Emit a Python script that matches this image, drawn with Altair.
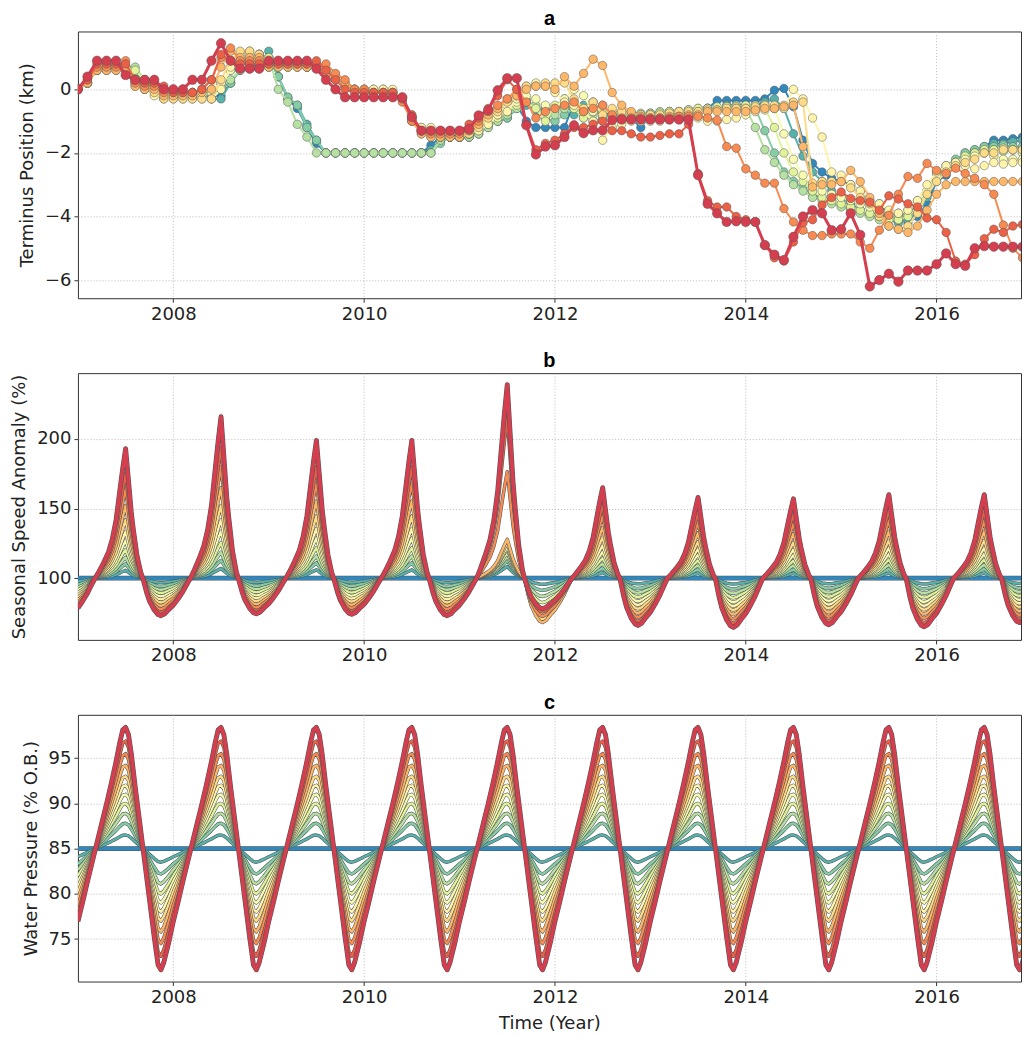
import altair as alt
import pandas as pd

# ---------------- common ----------------
SERIES = [f"s{k:02d}" for k in range(12)]
COLORS = ["#3288bd", "#58b2ac", "#85cea5", "#b6e1a2", "#e1f399", "#f6fbb1",
          "#fff4ac", "#fedb87", "#fdb769", "#f88b51", "#ec6046", "#d53e4f"]
YEARS = list(range(2007, 2017))
X_TICKS = [2008, 2010, 2012, 2014, 2016]

# ---------------- panel a: terminus position (km), one sample every 0.1 yr from 2007.0 ----------------
A_START = 2007.0
A_STEP = 0.1
TERM_00 = [0.0, 0.2, 0.6, 0.7, 0.7, 0.7, 0.4, 0.2, 0.1, 0.0,
           -0.1, -0.1, -0.1, -0.1, -0.2, -0.2, 0.2, 0.6, 0.7, 0.8,
           1.0, 0.4, -0.3, -0.6, -1.2, -1.7, -2.0, -2.0, -2.0, -2.0,
           -2.0, -2.0, -2.0, -2.0, -2.0, -2.0, -2.0, -1.76, -1.5, -1.5,
           -1.5, -1.5, -1.3, -1.1, -0.9, -0.7, -0.5, -1.0, -1.2, -1.2,
           -1.2, -1.2, -0.4, -0.6, -0.6, -0.66, -0.8, -0.97, -0.9, -1.2,
           -0.82, -0.8, -0.8, -0.8, -0.75, -0.7, -0.6, -0.35, -0.35, -0.35,
           -0.35, -0.35, -0.3, -0.03, 0.03, -0.55, -1.6, -2.33, -2.6, -2.8,
           -2.9, -3.0, -3.2, -3.5, -3.6, -3.9, -3.9, -4.2, -4.0, -3.6,
           -2.9, -2.7, -2.4, -2.0, -1.95, -1.8, -1.6, -1.6, -1.55, -1.5]
TERM_01 = [0.0, 0.2, 0.6, 0.7, 0.7, 0.7, 0.4, 0.2, 0.1, 0.0,
           -0.1, -0.1, -0.1, -0.1, -0.3, -0.3, 0.2, 0.65, 0.65, 0.65,
           1.2, 0.4, -0.25, -0.5, -1.1, -1.6, -2.0, -2.0, -2.0, -2.0,
           -2.0, -2.0, -2.0, -2.0, -2.0, -2.0, -2.0, -1.9, -1.6, -1.5,
           -1.5, -1.5, -1.4, -1.1, -1.0, -0.9, -0.6, -0.5, -0.7, -0.6,
           -0.7, -0.4, -0.8, -0.5, -0.4, -0.7, -0.8, -0.8, -0.8, -0.8,
           -0.8, -0.75, -0.7, -0.7, -0.65, -0.65, -0.6, -0.6, -0.5, -0.5,
           -0.5, -0.5, -0.4, -0.3, -0.6, -1.4, -2.1, -2.6, -2.9, -3.2,
           -3.4, -3.6, -3.8, -3.9, -4.0, -4.1, -4.2, -4.1, -3.9, -3.4,
           -2.8, -2.5, -2.3, -2.1, -1.9, -1.85, -1.7, -1.7, -1.65, -1.6]
TERM_02 = [0.0, 0.2, 0.6, 0.7, 0.7, 0.7, 0.5, 0.2, 0.1, 0.0,
           -0.1, -0.1, -0.1, -0.1, -0.1, 0.0, 0.2, 0.6, 0.8, 1.0,
           1.0, 0.4, -0.25, -0.5, -1.2, -1.6, -2.0, -2.0, -2.0, -2.0,
           -2.0, -2.0, -2.0, -2.0, -2.0, -2.0, -2.0, -2.0, -1.7, -1.5,
           -1.5, -1.5, -1.4, -1.2, -1.0, -0.9, -0.5, -0.3, -0.6, -0.9,
           -1.0, -0.8, -0.6, -0.8, -1.0, -0.9, -0.8, -0.8, -0.8, -0.8,
           -0.75, -0.75, -0.7, -0.7, -0.7, -0.65, -0.6, -0.6, -0.6, -0.55,
           -0.6, -0.6, -1.3, -2.0, -2.6, -2.9, -3.1, -3.3, -3.4, -3.5,
           -3.6, -3.7, -3.8, -3.9, -4.0, -4.0, -4.1, -3.9, -3.7, -3.2,
           -2.6, -2.4, -2.2, -2.0, -1.9, -1.8, -1.8, -1.75, -1.8, -1.8]
TERM_03 = [0.0, 0.2, 0.6, 0.7, 0.7, 0.7, 0.7, 0.3, 0.1, 0.0,
           -0.1, -0.1, -0.1, -0.1, 0.0, 0.1, 0.3, 0.6, 0.8, 1.1,
           1.0, 0.0, -0.4, -1.1, -1.5, -2.0, -2.0, -2.0, -2.0, -2.0,
           -2.0, -2.0, -2.0, -2.0, -2.0, -2.0, -2.0, -2.0, -1.6, -1.5,
           -1.5, -1.5, -1.4, -1.2, -1.0, -0.8, -0.6, -0.4, -0.5, -0.9,
           -0.8, -0.6, -0.5, -0.9, -0.8, -0.7, -0.7, -0.7, -0.75, -0.75,
           -0.75, -0.7, -0.7, -0.7, -0.65, -0.6, -0.6, -0.6, -0.55, -0.5,
           -0.6, -1.2, -1.9, -2.3, -2.7, -3.0, -3.2, -3.4, -3.5, -3.6,
           -3.7, -3.8, -3.9, -4.0, -4.1, -4.1, -4.0, -3.9, -3.6, -3.3,
           -2.8, -2.5, -2.3, -2.2, -2.0, -2.0, -1.9, -1.95, -1.9, -1.9]
TERM_04 = [0.0, 0.2, 0.6, 0.7, 0.7, 0.7, 0.6, 0.3, 0.1, -0.1,
           -0.1, -0.1, -0.1, -0.1, 0.0, 0.2, 0.6, 0.9, 0.9, 1.0,
           1.0, 0.8, 0.8, 0.8, 0.7, 0.7, 0.5, 0.3, 0.1, 0.0,
           0.0, 0.0, 0.0, -0.1, -0.3, -0.9, -1.3, -1.4, -1.5, -1.5,
           -1.5, -1.4, -1.3, -1.1, -0.9, -0.7, -0.5, -0.4, -0.6, -1.0,
           -0.5, -0.3, -0.6, -0.9, -0.7, -0.6, -0.7, -0.75, -0.8, -0.8,
           -0.8, -0.75, -0.7, -0.7, -0.65, -0.6, -0.6, -0.55, -0.55, -0.55,
           -0.5, -0.5, -0.6, -1.2, -2.0, -2.6, -2.9, -3.2, -3.4, -3.5,
           -3.6, -3.7, -3.8, -3.9, -4.0, -4.1, -4.1, -4.0, -3.7, -3.3,
           -2.8, -2.5, -2.3, -2.1, -2.0, -1.9, -1.9, -1.85, -1.9, -2.0]
TERM_05 = [0.0, 0.2, 0.6, 0.7, 0.7, 0.7, 0.2, 0.1, 0.0, -0.2,
           -0.2, -0.2, -0.2, -0.2, -0.1, 0.2, 0.6, 0.9, 1.1, 1.1,
           0.8, 0.8, 0.8, 0.8, 0.7, 0.7, 0.5, 0.3, 0.1, 0.0,
           0.0, 0.0, 0.0, -0.1, -0.3, -0.9, -1.2, -1.4, -1.4, -1.5,
           -1.5, -1.4, -1.2, -1.0, -0.8, -0.5, -0.4, -0.2, -0.3, -0.5,
           -0.6, -0.3, 0.0, -0.2, -0.7, -0.5, -0.7, -0.8, -0.85, -0.85,
           -0.85, -0.85, -0.8, -0.8, -0.75, -0.7, -0.7, -0.65, -0.65, -0.6,
           -0.6, -0.6, -0.55, -0.6, -1.4, -2.2, -2.7, -3.0, -3.2, -3.3,
           -3.4, -3.5, -3.6, -3.7, -3.8, -3.9, -3.9, -3.8, -3.5, -3.2,
           -2.7, -2.5, -2.3, -2.2, -2.1, -2.0, -2.1, -2.2, -2.2, -2.2]
TERM_06 = [0.0, 0.2, 0.6, 0.6, 0.6, 0.6, 0.2, 0.0, -0.2, -0.3,
           -0.3, -0.3, -0.3, -0.3, -0.3, 0.0, 0.7, 1.1, 1.2, 1.1,
           0.7, 0.7, 0.7, 0.7, 0.7, 0.7, 0.6, 0.4, 0.2, 0.0,
           0.0, 0.0, 0.0, 0.0, -0.3, -0.9, -1.2, -1.2, -1.5, -1.5,
           -1.5, -1.4, -1.3, -1.1, -0.8, -0.7, -0.3, 0.1, 0.2, 0.1,
           -0.1, -0.4, -0.5, -0.7, -1.0, -1.6, -1.2, -1.1, -1.0, -1.0,
           -1.0, -1.0, -0.95, -0.9, -0.9, -0.9, -1.0, -1.0, -0.95, -0.9,
           -0.8, -0.7, -0.65, -0.6, -0.6, 0.0, -0.3, -0.9, -1.5, -2.6,
           -2.7, -3.0, -3.2, -3.5, -3.6, -3.8, -3.9, -3.8, -3.5, -3.0,
           -2.6, -2.4, -2.3, -2.4, -2.5, -2.4, -2.3, -2.35, -2.3, -2.3]
TERM_07 = [0.0, 0.2, 0.6, 0.6, 0.6, 0.6, 0.1, 0.0, -0.1, -0.3,
           -0.3, -0.3, -0.3, -0.3, -0.3, 0.3, 0.9, 1.2, 1.2, 1.1,
           0.7, 0.7, 0.7, 0.7, 0.7, 0.7, 0.5, 0.3, 0.1, 0.0,
           -0.1, -0.1, -0.1, -0.1, -0.3, -1.0, -1.4, -1.5, -1.5, -1.5,
           -1.5, -1.4, -1.2, -0.9, -0.7, -0.4, -0.2, 0.1, 0.1, 0.2,
           0.2, 0.2, -0.3, -0.6, -0.4, -0.8, -0.6, -0.7, -0.8, -0.8,
           -0.8, -0.8, -0.75, -0.7, -0.7, -0.7, -0.65, -0.65, -0.6, -0.6,
           -0.6, -0.55, -0.5, -0.5, -0.5, -0.4, -0.4, -2.95, -2.9, -2.9,
           -2.9, -3.1, -3.4, -3.6, -4.0, -4.3, -4.4, -4.3, -3.9, -3.3,
           -2.9, -2.6, -2.4, -2.3, -2.2, -2.0, -2.0, -1.9, -1.9, -1.9]
TERM_08 = [0.0, 0.2, 0.6, 0.6, 0.6, 0.6, 0.1, 0.0, 0.0, -0.2,
           -0.2, -0.2, -0.2, -0.1, 0.0, 0.7, 1.2, 1.0, 1.0, 1.0,
           0.7, 0.7, 0.7, 0.7, 0.7, 0.7, 0.5, 0.4, 0.2, 0.0,
           -0.1, -0.1, -0.1, -0.1, -0.3, -1.0, -1.4, -1.5, -1.5, -1.5,
           -1.5, -1.3, -1.1, -0.8, -0.6, -0.3, -0.2, 0.0, 0.1, 0.1,
           0.0, 0.4, 0.1, 0.5, 0.95, 0.75, -0.1, -0.5, -0.7, -0.85,
           -0.9, -0.9, -0.85, -0.85, -0.8, -0.8, -0.7, -0.7, -0.7, -0.7,
           -0.7, -0.65, -0.6, -0.6, -0.55, -0.5, -1.8, -3.07, -3.0, -3.0,
           -2.9, -2.55, -2.9, -3.4, -3.9, -4.3, -4.4, -4.5, -4.3, -3.8,
           -3.3, -3.0, -2.9, -2.9, -2.9, -2.9, -2.9, -2.9, -2.9, -2.9]
TERM_09 = [0.0, 0.3, 0.7, 0.7, 0.7, 0.9, 0.2, 0.1, 0.1, -0.1,
           -0.1, -0.1, -0.1, 0.0, 0.3, 1.0, 1.3, 0.9, 0.9, 0.9,
           0.8, 0.8, 0.8, 0.8, 0.8, 0.8, 0.8, 0.5, 0.3, 0.0,
           0.0, -0.1, -0.1, -0.1, -0.4, -1.0, -1.3, -1.4, -1.4, -1.4,
           -1.4, -1.3, -1.0, -0.7, -0.5, -0.3, 0.0, -0.4, -0.9, -0.7,
           -0.6, -0.5, -0.4, -0.7, -0.6, -0.5, -0.8, -0.9, -0.9, -0.9,
           -0.9, -0.9, -0.9, -0.85, -0.85, -0.85, -0.9, -0.97, -1.8, -1.85,
           -2.5, -2.7, -2.95, -2.95, -3.75, -4.17, -4.43, -4.6, -4.6, -4.55,
           -4.55, -4.55, -4.8, -5.0, -4.43, -3.96, -3.3, -2.74, -2.8, -2.33,
           -2.55, -2.65, -2.48, -2.65, -2.8, -3.0, -3.3, -4.27, -5.0, -5.3]
TERM_10 = [0.0, 0.3, 0.8, 0.8, 0.8, 0.8, 0.3, 0.2, 0.2, 0.1,
           -0.1, -0.1, -0.1, 0.0, 0.3, 1.1, 0.9, 0.8, 0.8, 0.8,
           0.8, 0.8, 0.8, 0.8, 0.8, 0.9, 0.6, 0.3, 0.0, -0.1,
           -0.1, -0.1, -0.1, -0.1, -0.3, -0.8, -1.3, -1.3, -1.3, -1.3,
           -1.3, -1.1, -0.9, -0.6, -0.2, 0.3, 0.0, -1.1, -1.9, -1.7,
           -1.6, -1.4, -1.2, -1.2, -1.1, -1.0, -1.3, -1.3, -1.4, -1.5,
           -1.5, -1.45, -1.4, -1.4, -1.1, -2.65, -3.5, -3.7, -3.7, -4.0,
           -4.1, -4.17, -4.9, -5.3, -5.4, -4.8, -4.2, -4.1, -3.64, -3.4,
           -3.23, -3.43, -3.5, -3.55, -3.8, -3.35, -3.45, -3.6, -3.7, -4.05,
           -4.1, -4.5, -5.4, -5.5, -5.2, -4.7, -4.4, -4.5, -4.3, -4.25]
TERM_11 = [0.0, 0.4, 0.9, 0.9, 0.9, 0.45, 0.3, 0.3, 0.3, 0.0,
           0.0, 0.0, 0.3, 0.3, 0.9, 1.45, 0.9, 0.65, 0.65, 0.65,
           0.9, 0.9, 0.9, 0.9, 0.9, 0.65, 0.3, 0.0, -0.25, -0.25,
           -0.25, -0.25, -0.25, -0.25, -0.25, -0.87, -1.3, -1.3, -1.3, -1.3,
           -1.3, -1.25, -0.82, -0.66, -0.03, 0.35, 0.35, -1.13, -2.05, -1.8,
           -1.76, -1.5, -1.13, -1.38, -1.29, -1.29, -0.97, -0.95, -0.95, -0.95,
           -0.95, -0.95, -0.95, -0.95, -0.95, -2.7, -3.6, -3.9, -4.17, -4.15,
           -4.17, -4.17, -4.9, -5.2, -5.37, -4.64, -4.0, -3.8, -3.9, -4.43,
           -4.4, -3.9, -4.58, -6.2, -6.0, -5.8, -6.05, -5.7, -5.7, -5.7,
           -5.5, -5.16, -5.5, -5.55, -5.0, -4.93, -4.95, -4.95, -4.95, -4.95]
TERM = [TERM_00, TERM_01, TERM_02, TERM_03, TERM_04, TERM_05,
        TERM_06, TERM_07, TERM_08, TERM_09, TERM_10, TERM_11]

# ---------------- panel b: seasonal speed anomaly (%) ----------------
B_PHASE = [0.00, 0.05, 0.10, 0.15, 0.18, 0.22, 0.27, 0.32, 0.36, 0.40, 0.44, 0.47, 0.50,
           0.53, 0.56, 0.58, 0.62, 0.66, 0.68, 0.72, 0.75, 0.80, 0.84, 0.87, 0.91, 0.95]
B_SHAPE = [-0.72, -0.55, -0.36, -0.13, 0.0, 0.05, 0.12, 0.20, 0.30, 0.45, 0.68, 0.85, 1.0,
           0.75, 0.50, 0.38, 0.17, 0.04, 0.0, -0.38, -0.61, -0.85, -0.97, -1.0, -0.95, -0.84]
B_PEAK = [193, 216, 199, 199, 239, 165, 158, 157, 160, 160]          # 2007..2016, red curve
B_TROUGH = [70, 73, 74.4, 74, 73, 78, 66, 64.6, 66.5, 65, 68]         # 2006..2016, red curve
B_PEAK_FRAC = [0, 0.06, 0.11, 0.16, 0.22, 0.29, 0.36, 0.45, 0.56, 0.69, 0.81, 1.0]
B_TROUGH_FRAC = [0, 0.12, 0.22, 0.31, 0.40, 0.49, 0.57, 0.65, 0.74, 0.83, 0.92, 1.0]
B_PEAK_FRAC_2011 = [0, 0.06, 0.09, 0.11, 0.13, 0.15, 0.16, 0.18, 0.20, 0.55, 0.83, 1.0]
B_TROUGH_FRAC_2011 = [0, 0.2, 0.4, 0.6, 0.8, 1.0, 1.2, 1.35, 1.45, 1.25, 1.1, 1.0]

# ---------------- panel c: water pressure (% O.B.) ----------------
C_PHASE = [0.0, 0.05, 0.10, 0.15, 0.20, 0.25, 0.30, 0.35, 0.40, 0.44, 0.47, 0.50,
           0.53, 0.56, 0.60, 0.65, 0.70, 0.75, 0.80, 0.84, 0.87, 0.90, 0.95]
C_SHAPE = [-0.60, -0.44, -0.27, -0.11, 0.05, 0.21, 0.37, 0.54, 0.72, 0.88, 0.98, 1.0,
           0.94, 0.78, 0.51, 0.20, -0.11, -0.42, -0.73, -0.96, -1.0, -0.94, -0.78]
C_BASE = 85
C_AMP = [0, 1.5, 2.8, 3.9, 5.0, 6.0, 7.0, 8.0, 9.2, 10.5, 11.9, 13.4]

# ---------------- tables ----------------
rows_a = []
for k, name in enumerate(SERIES):
    for i, v in enumerate(TERM[k]):
        rows_a.append({"t": A_START + A_STEP * i, "v": v, "s": name})
dfa = pd.DataFrame(rows_a)


def b_value(k, year, phase_idx):
    sh = B_SHAPE[phase_idx]
    ph = B_PHASE[phase_idx]
    yi = year - 2007
    if sh >= 0:
        pf = B_PEAK_FRAC_2011[k] if year == 2011 else B_PEAK_FRAC[k]
        return 100 + sh * (B_PEAK[yi] - 100) * pf
    ty = year if ph >= 0.5 else year - 1
    tf = B_TROUGH_FRAC_2011[k] if ty == 2011 else B_TROUGH_FRAC[k]
    return 100 + sh * (100 - B_TROUGH[ty - 2006]) * tf


rows_b, rows_c = [], []
for k, name in enumerate(SERIES):
    for year in YEARS + [2017]:
        for j, ph in enumerate(B_PHASE):
            if year == 2017 and j > 0:
                break
            rows_b.append({"t": year + ph, "v": b_value(k, year, j), "s": name})
        for j, ph in enumerate(C_PHASE):
            if year == 2017 and j > 0:
                break
            rows_c.append({"t": year + ph, "v": C_BASE + C_AMP[k] * C_SHAPE[j], "s": name})
dfb = pd.DataFrame(rows_b)
dfc = pd.DataFrame(rows_c)

# ---------------- chart ----------------
W, H = 944, 267
X_DOMAIN = [2007.0, 2016.885]
cscale = alt.Scale(domain=SERIES, range=COLORS)
MINUS = "replace(datum.label, '-', '\u2212')"


def xenc(title):
    return alt.X("t:Q", scale=alt.Scale(domain=X_DOMAIN, nice=False, zero=False),
                 axis=alt.Axis(values=X_TICKS, format="d", title=title))


def yenc(title, domain, ticks):
    return alt.Y("v:Q", scale=alt.Scale(domain=domain, nice=False, zero=False),
                 axis=alt.Axis(values=ticks, format="d", title=title, labelExpr=MINUS))


def panel_a():
    base = alt.Chart().encode(
        x=xenc(None),
        y=yenc("Terminus Position (km)", [-6.57, 1.82], [-6, -4, -2, 0]),
        color=alt.Color("s:N", scale=cscale, legend=None),
    )
    layers = []
    for k, name in enumerate(SERIES):
        f = base.transform_filter(alt.datum.s == name)
        red = k == len(SERIES) - 1
        layers.append(f.mark_line(strokeWidth=3 if red else 2, clip=True))
        layers.append(f.mark_circle(size=90 if red else 72, opacity=1, stroke="#555",
                                    strokeWidth=0.5, clip=True))
    return alt.layer(*layers, data=dfa).properties(width=W, height=H, title="a")


def panel_lines(df, ytitle, ydomain, yticks, title, xtitle):
    base = alt.Chart().encode(
        x=xenc(xtitle),
        y=yenc(ytitle, ydomain, yticks),
    )
    layers = []
    for k, name in enumerate(SERIES):
        f = base.transform_filter(alt.datum.s == name)
        thick = k in (0, len(SERIES) - 1)
        w = 3.8 if thick else 2.4
        layers.append(f.mark_line(strokeWidth=w + 1.1, color="#555555", clip=True,
                                  strokeJoin="round"))
        layers.append(f.mark_line(strokeWidth=w, clip=True, strokeJoin="round").encode(
            color=alt.Color("s:N", scale=cscale, legend=None)))
    return alt.layer(*layers, data=df).properties(width=W, height=H, title=title)


pa = panel_a()
pb = panel_lines(dfb, "Seasonal Speed Anomaly (%)", [55.6, 247.3], [100, 150, 200], "b", None)
pc = panel_lines(dfc, "Water Pressure (% O.B.)", [70.3, 99.8], [75, 80, 85, 90, 95], "c", "Time (Year)")

chart = alt.vconcat(pa, pb, pc, spacing=26).properties(
    padding={"left": 2, "top": 0, "right": 0, "bottom": 0}
).configure_view(
    stroke="#333", strokeWidth=1
).configure_axis(
    labelFont="DejaVu Sans", labelFontSize=18, labelColor="#222",
    titleFont="DejaVu Sans", titleFontSize=18, titleFontWeight="normal", titleColor="#222",
    tickColor="#333", tickSize=4, labelPadding=3, titlePadding=8, domain=False,
    grid=True, gridColor="#b8b8b8", gridDash=[1.2, 1.8], gridWidth=0.8,
).configure_title(
    font="Liberation Sans", fontSize=20, fontWeight="bold", color="#000", anchor="middle", offset=2,
)

chart.save("out.html", embed_options={"renderer": "svg", "actions": False})
